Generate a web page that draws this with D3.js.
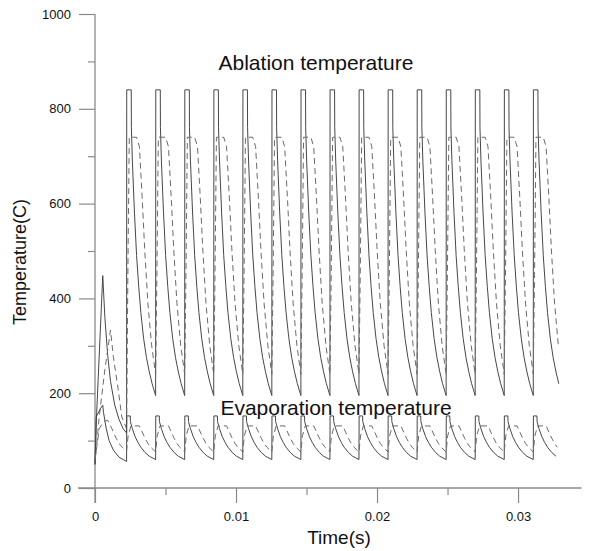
<!DOCTYPE html>
<html>
<head>
  <script src="https://cdn.jsdelivr.net/npm/d3@7"></script>
  <style>
    body { margin: 0; background: #fff; }
    text { font-family: "Liberation Sans", Arial, sans-serif; fill: #111; }
  </style>
</head>
<body>
  <div id="chart"></div>
  <script>
    // pulse onsets (s)
    const pulseTimes = [0.00225, 0.00431, 0.00637, 0.00843, 0.01049, 0.01255, 0.01461, 0.01667,
      0.01873, 0.02079, 0.02285, 0.02491, 0.02697, 0.02903, 0.03109]
    const tEnd = 0.0330

    // start-up transient [t, T]
    const ablSolidInit = [[0, 50], [0.00012, 160], [0.00055, 448], [0.0007, 360], [0.0009, 280], [0.0011, 225],
      [0.0014, 175], [0.0017, 145], [0.002, 125], [0.00224, 116]]
    const ablDashInit = [[0, 50], [0.0003, 150], [0.0007, 250], [0.0011, 333], [0.0013, 277], [0.00165, 207],
      [0.0019, 150], [0.00224, 125]]
    const evapSolidInit = [[0, 50], [0.00008, 150], [0.0004, 168], [0.00055, 175], [0.0006, 160], [0.0008, 125],
      [0.001, 100], [0.0013, 80], [0.0017, 65], [0.00224, 56]]
    const evapDashInit = [[0, 60], [0.0003, 125], [0.0006, 140], [0.0009, 143], [0.0012, 125], [0.0015, 105],
      [0.0018, 90], [0.00224, 78]]

    // one pulse cycle [time after onset, T]
    const ablSolidCycle = [[0, 840], [0.00032, 840], [0.00033, 760], [0.0004, 690], [0.00055, 580], [0.0007, 490],
      [0.00085, 425], [0.001, 370], [0.0012, 315], [0.0014, 275], [0.0016, 245], [0.0018, 220], [0.00205, 195]]
    const ablDashCycle = [[0.00008, 450], [0.00018, 740], [0.0007, 740], [0.0009, 720], [0.0011, 610],
      [0.00128, 500], [0.0015, 390], [0.00177, 300], [0.00205, 240]]
    const evapSolidCycle = [[0, 152], [0.00025, 152], [0.00026, 140], [0.0004, 125], [0.0006, 108], [0.0008, 96],
      [0.001, 86], [0.0013, 75], [0.0016, 67], [0.00205, 60]]
    const evapDashCycle = [[0.0001, 110], [0.0003, 131], [0.0009, 131], [0.0011, 118], [0.0013, 105],
      [0.0015, 94], [0.0017, 86], [0.00205, 76]]

    const xTicks = [0, 0.01, 0.02, 0.03]
    const xMinor = [0.005, 0.015, 0.025]
    const yTicks = [0, 200, 400, 600, 800, 1000]
    const yMinor = [100, 300, 500, 700, 900]

    function buildSeries (init, cycle) {
      const pts = init.slice()
      pulseTimes.forEach(t0 => {
        cycle.forEach(([dt, v]) => {
          if (t0 + dt <= tEnd) pts.push([t0 + dt, v])
        })
      })
      return pts
    }

    const series = [
      { pts: buildSeries(ablSolidInit, ablSolidCycle), dash: null },
      { pts: buildSeries(ablDashInit, ablDashCycle), dash: "6,4" },
      { pts: buildSeries(evapSolidInit, evapSolidCycle), dash: null },
      { pts: buildSeries(evapDashInit, evapDashCycle), dash: "6,4" }
    ]

    const width = 602
    const height = 551

    const x = d3.scaleLinear().domain([0, 0.0345]).range([95, 581.5])
    const y = d3.scaleLinear().domain([0, 1000]).range([488, 14])

    const svg = d3.select("#chart").append("svg")
      .attr("width", width)
      .attr("height", height)

    const axisColor = "#8a8a8a"

    // axes lines
    svg.append("line")
      .attr("x1", 78).attr("x2", x.range()[1])
      .attr("y1", y(0)).attr("y2", y(0))
      .attr("stroke", axisColor).attr("stroke-width", 1.3)
    svg.append("line")
      .attr("x1", x(0)).attr("x2", x(0))
      .attr("y1", y(1000)).attr("y2", y(0) + 15)
      .attr("stroke", axisColor).attr("stroke-width", 1.3)

    const xAxis = svg.append("g").attr("transform", `translate(0,${y(0)})`)
    xAxis.call(d3.axisBottom(x).tickValues(xTicks).tickSize(15).tickPadding(9)
      .tickFormat(d => d === 0 ? "0" : d3.format(".2f")(d)))
    xAxis.append("g").call(d3.axisBottom(x).tickValues(xMinor).tickSize(7).tickFormat(""))

    const yAxis = svg.append("g").attr("transform", `translate(${x(0)},0)`)
    yAxis.call(d3.axisLeft(y).tickValues(yTicks).tickSize(16).tickPadding(8).tickFormat(d3.format("d")))
    yAxis.append("g").call(d3.axisLeft(y).tickValues(yMinor).tickSize(7).tickFormat(""))

    svg.selectAll(".domain").remove()
    svg.selectAll(".tick line").attr("stroke", axisColor).attr("stroke-width", 1.2)
    svg.selectAll(".tick text")
      .style("font-family", '"Liberation Sans", Arial, sans-serif')
      .style("font-size", "13px")
      .attr("fill", "#222")

    const line = d3.line()
      .x(d => x(d[0]))
      .y(d => y(d[1]))

    svg.append("g")
      .selectAll("path")
      .data(series)
      .enter()
      .append("path")
      .attr("d", d => line(d.pts))
      .attr("fill", "none")
      .attr("stroke", d => d.dash ? "#6a6a6a" : "#474747")
      .attr("stroke-width", 1)
      .attr("stroke-dasharray", d => d.dash)

    svg.append("text")
      .attr("x", 316).attr("y", 70)
      .attr("text-anchor", "middle")
      .style("font-size", "21px")
      .text("Ablation temperature")

    svg.append("text")
      .attr("x", 336).attr("y", 415)
      .attr("text-anchor", "middle")
      .style("font-size", "21px")
      .text("Evaporation temperature")

    svg.append("text")
      .attr("x", 339).attr("y", 544)
      .attr("text-anchor", "middle")
      .style("font-size", "19px")
      .text("Time(s)")

    svg.append("text")
      .attr("transform", "translate(26,262) rotate(-90)")
      .attr("text-anchor", "middle")
      .style("font-size", "18px")
      .text("Temperature(C)")
  </script>
</body>
</html>
